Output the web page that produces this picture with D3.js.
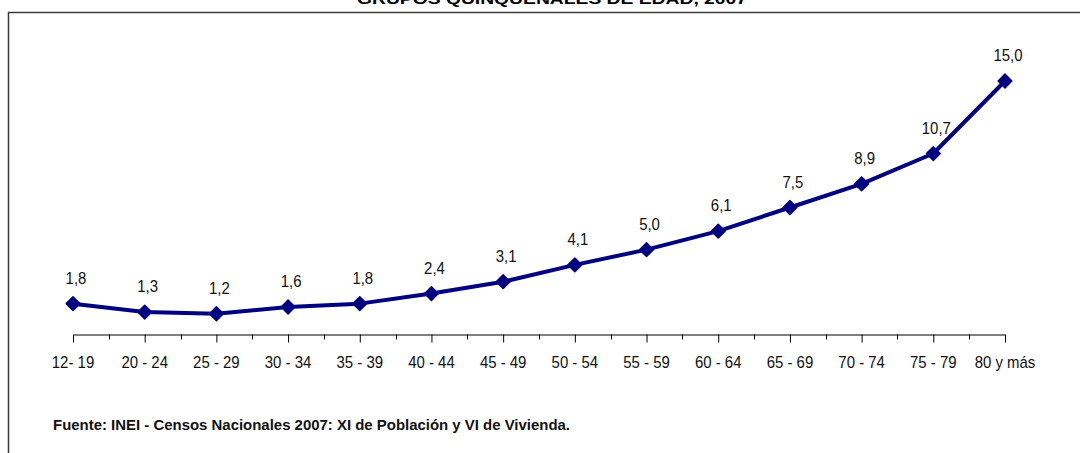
<!DOCTYPE html>
<html>
<head>
<meta charset="utf-8">
<script src="https://cdn.jsdelivr.net/npm/d3@7"></script>
<style>
  html, body { margin: 0; padding: 0; background: #fff; }
  svg { display: block; }
  text { font-family: "Liberation Sans", Arial, sans-serif; }
</style>
</head>
<body>
<svg id="chart" width="1080" height="453"></svg>
<script>
const categories = ["12- 19", "20 - 24", "25 - 29", "30 - 34", "35 - 39", "40 - 44", "45 - 49",
                    "50 - 54", "55 - 59", "60 - 64", "65 - 69", "70 - 74", "75 - 79", "80 y más"];
const values = [1.8, 1.3, 1.2, 1.6, 1.8, 2.4, 3.1, 4.1, 5.0, 6.1, 7.5, 8.9, 10.7, 15.0];
const valueLabels = ["1,8", "1,3", "1,2", "1,6", "1,8", "2,4", "3,1", "4,1", "5,0", "6,1", "7,5", "8,9", "10,7", "15,0"];
const titleText = "GRUPOS QUINQUENALES DE EDAD, 2007";
const sourceText = "Fuente: INEI - Censos Nacionales 2007: XI de Población y VI de Vivienda.";

const svg = d3.select("#chart");
const W = 1080, H = 453;
const navy = "#000080";

// frame
svg.append("rect")
  .attr("x", 8.5).attr("y", 12.5)
  .attr("width", W + 20).attr("height", H + 20)
  .attr("fill", "none").attr("stroke", "#3a3a3a").attr("stroke-width", 1.5);

// title (cut off at the top, as in the reference)
svg.append("text")
  .attr("x", 552).attr("y", 3.5)
  .attr("text-anchor", "middle")
  .attr("font-weight", "bold")
  .attr("font-size", 15)
  .attr("textLength", 390).attr("lengthAdjust", "spacingAndGlyphs")
  .attr("fill", "#000")
  .text(titleText);

const x = d3.scalePoint().domain(categories).range([73, 1005]);
const y = d3.scaleLinear().domain([0, 15]).range([334, 81]);

// axis
const axisY = 334.5;
const axis = d3.axisBottom(x).tickSize(8).tickSizeOuter(0).tickFormat("");
const gAxis = svg.append("g").attr("transform", `translate(0,${axisY})`).call(axis);
gAxis.select(".domain").attr("stroke", "#000").attr("stroke-width", 1);
gAxis.selectAll(".tick line").attr("stroke", "#000").attr("stroke-width", 1);

// minor ticks midway
const mids = d3.pairs(categories).map(([a, b]) => (x(a) + x(b)) / 2);
gAxis.selectAll(".minor").data(mids).join("line")
  .attr("class", "minor")
  .attr("x1", d => Math.round(d) + 0.5).attr("x2", d => Math.round(d) + 0.5)
  .attr("y1", 0).attr("y2", 5)
  .attr("stroke", "#000").attr("stroke-width", 1);

// category labels
svg.append("g").selectAll("text").data(categories).join("text")
  .attr("transform", d => `translate(${x(d)},367.5) scale(0.88,1)`)
  .attr("text-anchor", "middle")
  .attr("font-size", 17)
  .attr("fill", "#111")
  .text(d => d);

// line
const line = d3.line().x((d, i) => x(categories[i])).y(d => y(d));
svg.append("path").datum(values)
  .attr("d", line)
  .attr("fill", "none").attr("stroke", navy).attr("stroke-width", 4)
  .attr("stroke-linejoin", "round");

// markers
const diamond = d3.symbol().type(d3.symbolDiamond2).size(120);
svg.append("g").selectAll("path").data(values).join("path")
  .attr("d", diamond)
  .attr("transform", (d, i) => `translate(${x(categories[i])},${y(d)})`)
  .attr("fill", navy).attr("stroke", navy).attr("stroke-width", 1.5)
  .attr("stroke-linejoin", "round");

// value labels
svg.append("g").selectAll("text").data(values).join("text")
  .attr("transform", (d, i) => `translate(${x(categories[i]) + 3},${y(d) - 20}) scale(0.88,1)`)
  .attr("text-anchor", "middle")
  .attr("font-size", 17)
  .attr("fill", "#111")
  .text((d, i) => valueLabels[i]);

// source
svg.append("text")
  .attr("x", 53).attr("y", 430)
  .attr("font-weight", "bold")
  .attr("font-size", 15)
  .attr("textLength", 517).attr("lengthAdjust", "spacingAndGlyphs")
  .attr("fill", "#111")
  .text(sourceText);
</script>
</body>
</html>
